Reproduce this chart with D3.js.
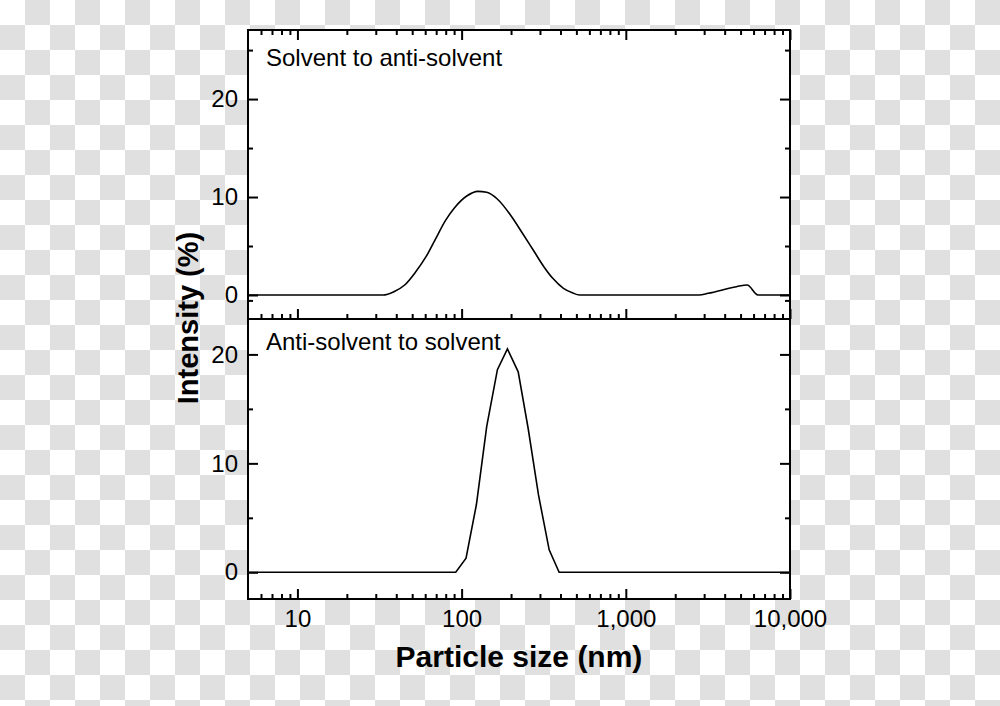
<!DOCTYPE html>
<html>
<head>
<meta charset="utf-8">
<script src="https://cdn.jsdelivr.net/npm/d3@7/dist/d3.min.js"></script>
<style>
  html, body { margin: 0; padding: 0; background: #fff; }
  svg { display: block; }
  text { font-family: "Liberation Sans", Arial, sans-serif; fill: #000; }
</style>
</head>
<body>
<script>
// ---- Data ----
const topSize = [5, 33.3, 38.7, 45.0, 52.3, 60.7, 68.8, 80.0, 90.6, 108.0, 125.5, 142.2, 164.9, 201.8, 234.2, 272.9, 316.8, 359.1, 417.1, 472, 522.5, 2797, 3173, 4723, 5483, 6384, 10000];
const topIntensity = [0, 0, 0.34, 1.02, 2.32, 3.91, 5.61, 7.65, 8.91, 10.13, 10.58, 10.48, 9.80, 7.99, 6.33, 4.59, 2.89, 1.70, 0.68, 0.23, 0, 0, 0.17, 0.85, 1.02, 0, 0];

const bottomSize = [5, 92.1, 106.4, 123.0, 142.2, 165.2, 190.1, 221.1, 254.3, 293.9, 341.4, 392.6, 10000];
const bottomIntensity = [0, 0, 1.30, 6.2, 13.4, 18.6, 20.5, 18.4, 13.2, 7.1, 2.06, 0, 0];

const xMajorTicks = [10, 100, 1000, 10000];
const xTickLabels = ["10", "100", "1,000", "10,000"];
const xMinorTicks = [6, 7, 8, 9, 20, 30, 40, 50, 60, 70, 80, 90, 200, 300, 400, 500, 600, 700, 800, 900, 2000, 3000, 4000, 5000, 6000, 7000, 8000, 9000];
const yMajorTicks = [0, 10, 20];
const topMinorTicks = [-0.55, 5, 15, 25];
const bottomMinorTicks = [5, 15];

const topLabel = "Solvent to anti-solvent";
const bottomLabel = "Anti-solvent to solvent";
const xTitle = "Particle size (nm)";
const yTitle = "Intensity (%)";

// ---- Layout ----
const W = 1000, H = 706;
const L = 248, R = 790, T = 30, M = 319, B = 599;

const svg = d3.select("body").append("svg").attr("width", W).attr("height", H);

// checkerboard background
const defs = svg.append("defs");
const pat = defs.append("pattern").attr("id", "checker").attr("width", 50).attr("height", 50)
  .attr("patternUnits", "userSpaceOnUse");
pat.append("rect").attr("width", 50).attr("height", 50).attr("fill", "#ffffff");
pat.append("rect").attr("x", 25).attr("y", 0).attr("width", 25).attr("height", 25).attr("fill", "#e0e0e0");
pat.append("rect").attr("x", 0).attr("y", 25).attr("width", 25).attr("height", 25).attr("fill", "#e0e0e0");
svg.append("rect").attr("width", W).attr("height", H).attr("fill", "url(#checker)");

// plot area
svg.append("rect").attr("x", L).attr("y", T).attr("width", R - L).attr("height", B - T).attr("fill", "#fff");

const x = d3.scaleLog().domain([5, 10000]).range([L, R]);
const yTop = d3.scaleLinear().domain([-2.45, 27.05]).range([M, T]);
const yBot = d3.scaleLinear().domain([-2.45, 23.25]).range([B, M]);

const fontTick = 24;

function styleAxis(g) {
  g.select(".domain").remove();
  g.selectAll(".tick line").attr("stroke", "#000").attr("stroke-width", 2);
  g.selectAll(".tick text").style("font-size", fontTick + "px").style("font-family", "'Liberation Sans', Arial, sans-serif");
}

// Y axes (left with labels, right without)
function yAxes(y, minor) {
  svg.append("g").attr("transform", `translate(${L},0)`)
    .call(d3.axisLeft(y).tickValues(yMajorTicks).tickSizeInner(-10).tickSizeOuter(0).tickPadding(10).tickFormat(d3.format("d")))
    .call(styleAxis);
  svg.append("g").attr("transform", `translate(${L},0)`)
    .call(d3.axisLeft(y).tickValues(minor).tickSizeInner(-5).tickSizeOuter(0).tickFormat(""))
    .call(styleAxis);
  svg.append("g").attr("transform", `translate(${R},0)`)
    .call(d3.axisRight(y).tickValues(yMajorTicks).tickSizeInner(-10).tickSizeOuter(0).tickFormat(""))
    .call(styleAxis);
  svg.append("g").attr("transform", `translate(${R},0)`)
    .call(d3.axisRight(y).tickValues(minor).tickSizeInner(-5).tickSizeOuter(0).tickFormat(""))
    .call(styleAxis);
}
yAxes(yTop, topMinorTicks);
yAxes(yBot, bottomMinorTicks);

// X axes
function xTicksAt(yPos, dir, withLabels) {
  const maj = dir === "top" ? d3.axisTop(x) : d3.axisBottom(x);
  const mn = dir === "top" ? d3.axisTop(x) : d3.axisBottom(x);
  svg.append("g").attr("transform", `translate(0,${yPos})`)
    .call(maj.tickValues(xMajorTicks).tickSizeInner(-10).tickSizeOuter(0).tickPadding(11)
      .tickFormat((d, i) => withLabels ? xTickLabels[i] : ""))
    .call(styleAxis);
  svg.append("g").attr("transform", `translate(0,${yPos})`)
    .call(mn.tickValues(xMinorTicks).tickSizeInner(-5).tickSizeOuter(0).tickFormat(""))
    .call(styleAxis);
}
xTicksAt(T, "top", false);
xTicksAt(M, "bottom", false);
xTicksAt(B, "bottom", true);

// curves
const lineTop = d3.line().x((d, i) => x(topSize[i])).y((d, i) => yTop(topIntensity[i])).curve(d3.curveMonotoneX);
const lineBot = d3.line().x((d, i) => x(bottomSize[i])).y((d, i) => yBot(bottomIntensity[i])).curve(d3.curveLinear);
svg.append("path").attr("d", lineTop(topSize)).attr("fill", "none").attr("stroke", "#000").attr("stroke-width", 1.6);
svg.append("path").attr("d", lineBot(bottomSize)).attr("fill", "none").attr("stroke", "#000").attr("stroke-width", 1.6);

// frame
svg.append("rect").attr("x", L).attr("y", T).attr("width", R - L).attr("height", B - T)
  .attr("fill", "none").attr("stroke", "#000").attr("stroke-width", 2);
svg.append("line").attr("x1", L).attr("x2", R).attr("y1", M).attr("y2", M).attr("stroke", "#000").attr("stroke-width", 2);

// panel labels
svg.append("text").attr("x", 266).attr("y", 66).style("font-size", "24px").text(topLabel);
svg.append("text").attr("x", 266).attr("y", 350).style("font-size", "24px").text(bottomLabel);

// axis titles
svg.append("text").attr("x", 519).attr("y", 667).attr("text-anchor", "middle")
  .style("font-size", "30px").style("font-weight", "bold").text(xTitle);
svg.append("text").attr("transform", `translate(198,318) rotate(-90)`).attr("text-anchor", "middle")
  .style("font-size", "29px").style("font-weight", "bold").text(yTitle);
</script>
</body>
</html>
